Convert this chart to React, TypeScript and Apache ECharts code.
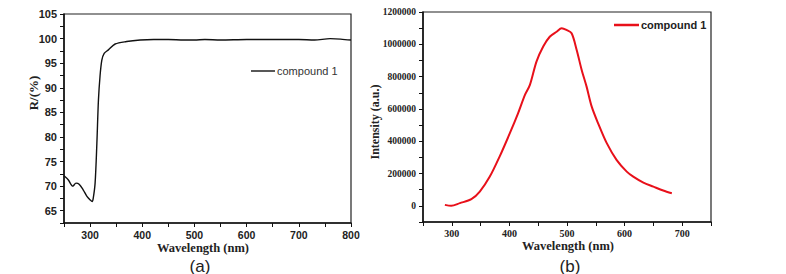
import React, { useEffect, useRef } from "react";
import * as echarts from "echarts";

// (a) reflectance spectrum
const reflWavelength = [250, 258, 267, 273, 279, 287, 294, 300, 304, 306, 309.6, 313, 316, 319, 322.5, 327, 335, 348, 370, 396, 422, 450, 480, 500, 520, 550, 600, 650, 700, 730, 760, 780, 800];
const reflValue = [72.1, 71.3, 70.0, 70.6, 70.4, 69.2, 67.9, 67.2, 66.85, 67.5, 70.6, 78.7, 87.5, 92.3, 95.6, 97.0, 97.7, 98.9, 99.4, 99.7, 99.8, 99.8, 99.7, 99.7, 99.8, 99.7, 99.8, 99.8, 99.8, 99.7, 100.0, 99.9, 99.7];

// (b) emission spectrum
const emWavelength = [288, 299, 314, 334, 348.6, 366, 383, 400.8, 415, 427, 435.6, 447, 458.7, 470, 482, 490.7, 499, 508, 516.8, 525.5, 534, 542.9, 554, 569, 586, 603.7, 615, 632.6, 650, 667, 682];
const emValue = [6000, 0, 16700, 41000, 88000, 181000, 305000, 450000, 573000, 687000, 749000, 893000, 986000, 1047000, 1078000, 1099000, 1089000, 1068000, 965000, 841000, 738000, 614000, 511000, 388000, 285000, 212000, 181000, 144000, 119000, 95000, 78000];

const seriesName = "compound 1";
const panelLabels = ["(a)", "(b)"];

export default function App() {
  const ref = useRef<HTMLDivElement>(null);
  useEffect(() => {
    if (!ref.current) return;
    const chart = echarts.init(ref.current, null, { renderer: "svg" });
    const sans = "Liberation Sans, Arial, sans-serif";
    const serif = "Liberation Serif, Times New Roman, serif";
    const axisCommon = {
      axisLine: { show: true, onZero: false, lineStyle: { color: "#111", width: 1.5 } },
      splitLine: { show: false },
    };
    chart.setOption({
      animation: false,
      backgroundColor: "#fff",
      grid: [
        { left: 64, top: 14, width: 287, height: 209, show: true, borderColor: "#222", borderWidth: 1.2, backgroundColor: "transparent" },
        { left: 423, top: 12, width: 288, height: 210, show: true, borderColor: "#222", borderWidth: 1.2, backgroundColor: "transparent" },
      ],
      xAxis: [
        {
          ...axisCommon,
          type: "value", gridIndex: 0, min: 250, max: 800, interval: 50,
          axisTick: { show: true, length: 4, lineStyle: { color: "#111" } },
          axisLabel: { margin: 6, color: "#222", fontFamily: sans, fontWeight: "bold", fontSize: 10.5, lineHeight: 11,
            formatter: (v: number) => (v % 100 === 0 && v > 250 ? String(v) : "") },
        },
        {
          ...axisCommon,
          type: "value", gridIndex: 1, min: 250, max: 750, interval: 50,
          axisTick: { show: true, length: 4, lineStyle: { color: "#111" } },
          axisLabel: { margin: 6, color: "#222", fontFamily: serif, fontWeight: "bold", fontSize: 10, lineHeight: 10,
            formatter: (v: number) => (v % 100 === 0 && v > 250 ? String(v) : "") },
        },
      ],
      yAxis: [
        {
          ...axisCommon,
          type: "value", gridIndex: 0, min: 62.5, max: 105, interval: 2.5,
          axisTick: { show: true, length: 4, lineStyle: { color: "#111" } },
          axisLabel: { margin: 7, color: "#222", fontFamily: sans, fontWeight: "bold", fontSize: 11,
            formatter: (v: number) => (v % 5 === 0 ? String(v) : "") },
        },
        {
          ...axisCommon,
          type: "value", gridIndex: 1, min: -100000, max: 1200000, interval: 100000,
          axisTick: { show: true, length: 4, lineStyle: { color: "#111" } },
          axisLabel: { margin: 7, color: "#222", fontFamily: serif, fontWeight: "bold", fontSize: 9.5,
            formatter: (v: number) => (v % 200000 === 0 && v >= 0 ? String(v) : "") },
        },
      ],
      series: [
        {
          name: seriesName, type: "line", xAxisIndex: 0, yAxisIndex: 0, showSymbol: false, symbol: "none",
          smooth: 0.3, lineStyle: { color: "#111", width: 1.4 }, itemStyle: { color: "#111" },
          data: reflWavelength.map((x, i) => [x, reflValue[i]]),
        },
        {
          name: seriesName + " ", type: "line", xAxisIndex: 1, yAxisIndex: 1, showSymbol: false, symbol: "none",
          smooth: 0.3, lineStyle: { color: "#e8101a", width: 2 }, itemStyle: { color: "#e8101a" },
          data: emWavelength.map((x, i) => [x, emValue[i]]),
        },
      ],
      graphic: [
        { type: "text", x: 33, y: 93, rotation: Math.PI / 2, style: { text: "R/(%)", font: `bold 13px ${serif}`, fill: "#222", align: "center", verticalAlign: "middle" } },
        { type: "text", x: 203, y: 247.5, style: { text: "Wavelength (nm)", font: `bold 12.5px ${serif}`, fill: "#222", align: "center", verticalAlign: "middle" } },
        { type: "text", x: 200, y: 266, style: { text: panelLabels[0], font: `17px ${sans}`, fill: "#222", align: "center", verticalAlign: "middle" } },
        { type: "text", x: 375, y: 122, rotation: Math.PI / 2, style: { text: "Intensity (a.u.)", font: `bold 12px ${serif}`, fill: "#222", align: "center", verticalAlign: "middle" } },
        { type: "text", x: 568, y: 246, style: { text: "Wavelength (nm)", font: `bold 12.5px ${serif}`, fill: "#222", align: "center", verticalAlign: "middle" } },
        { type: "text", x: 570, y: 266, style: { text: panelLabels[1], font: `17px ${sans}`, fill: "#222", align: "center", verticalAlign: "middle" } },
        { type: "line", shape: { x1: 251, y1: 71, x2: 275, y2: 71 }, style: { stroke: "#111", lineWidth: 1.4 } },
        { type: "text", x: 277, y: 71, style: { text: seriesName, font: `11px ${sans}`, fill: "#333", align: "left", verticalAlign: "middle" } },
        { type: "line", shape: { x1: 614, y1: 25, x2: 639, y2: 25 }, style: { stroke: "#e8101a", lineWidth: 2.5 } },
        { type: "text", x: 641, y: 25, style: { text: seriesName, font: `bold 11px ${sans}`, fill: "#222", align: "left", verticalAlign: "middle" } },
      ],
    });
    return () => chart.dispose();
  }, []);
  return <div ref={ref} style={{ position: "fixed", left: 0, top: 0, width: 786, height: 274 }} />;
}
